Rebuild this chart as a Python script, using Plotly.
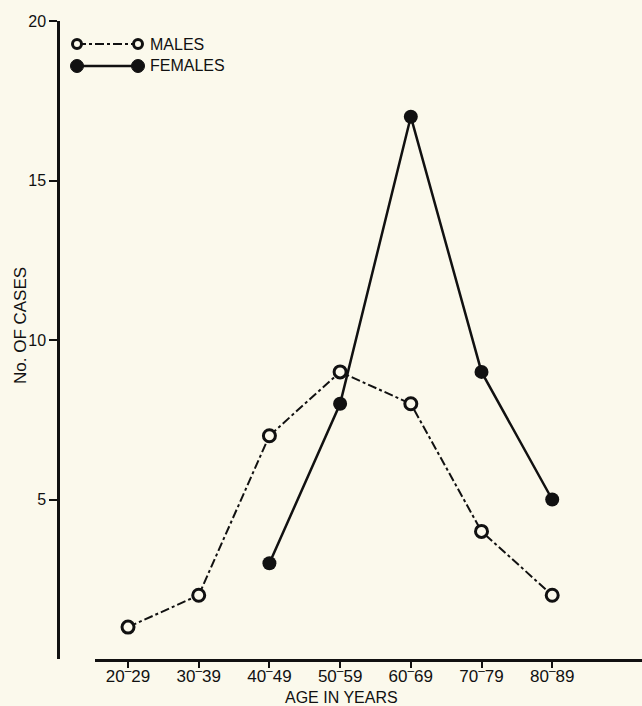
import plotly.graph_objects as go

age_groups = ["20-29", "30-39", "40-49", "50-59", "60-69", "70-79", "80-89"]
tick_labels = ["20<sup>\u2013</sup>29", "30<sup>\u2013</sup>39", "40<sup>\u2013</sup>49", "50<sup>\u2013</sup>59",
               "60<sup>\u2013</sup>69", "70<sup>\u2013</sup>79", "80<sup>\u2013</sup>89"]
males = [1, 2, 7, 9, 8, 4, 2]
female_groups = ["40-49", "50-59", "60-69", "70-79", "80-89"]
females = [3, 8, 17, 9, 5]

W, H = 642, 706
L, R, T, B = 58, 0, 21, 47
PW, PH = W - L - R, H - T - B
BG = "#fbf9ec"
INK = "#111111"
FONT = "Liberation Sans, Arial, sans-serif"

def px(x):
    return (x - L) / PW

def py(y):
    return (H - B - y) / PH

xi_m = [age_groups.index(g) for g in age_groups]
xi_f = [age_groups.index(g) for g in female_groups]

fig = go.Figure()
fig.add_trace(go.Scatter(
    x=xi_m, y=males, mode="lines+markers", name="MALES",
    line=dict(color=INK, width=2, dash="dashdot"),
    marker=dict(symbol="circle", size=12, color=BG, line=dict(color=INK, width=3)),
))
fig.add_trace(go.Scatter(
    x=xi_f, y=females, mode="lines+markers", name="FEMALES",
    line=dict(color=INK, width=2.5),
    marker=dict(symbol="circle", size=14, color=INK),
))

# manual legend (decoration)
shapes = []
shapes.append(dict(type="line", xref="paper", yref="paper", x0=px(77), x1=px(138), y0=py(44), y1=py(44),
                   line=dict(color=INK, width=2, dash="dashdot")))
shapes.append(dict(type="line", xref="paper", yref="paper", x0=px(77), x1=px(138), y0=py(66), y1=py(66),
                   line=dict(color=INK, width=2.5)))
for cx in (77, 138):
    shapes.append(dict(type="circle", xref="paper", yref="paper",
                       x0=px(cx - 4.5), x1=px(cx + 4.5), y0=py(44 - 4.5), y1=py(44 + 4.5),
                       fillcolor=BG, line=dict(color=INK, width=3)))
    shapes.append(dict(type="circle", xref="paper", yref="paper",
                       x0=px(cx - 6.5), x1=px(cx + 6.5), y0=py(66 - 6.5), y1=py(66 + 6.5),
                       fillcolor=INK, line=dict(color=INK, width=1)))

annotations = [
    dict(text="MALES", xref="paper", yref="paper", x=px(148), y=py(44), xanchor="left", yanchor="middle",
         showarrow=False, font=dict(family=FONT, size=16, color=INK)),
    dict(text="FEMALES", xref="paper", yref="paper", x=px(148), y=py(66), xanchor="left", yanchor="middle",
         showarrow=False, font=dict(family=FONT, size=16, color=INK)),
    dict(text="AGE IN YEARS", xref="paper", yref="paper", x=px(341), y=py(697), xanchor="center",
         yanchor="middle", showarrow=False, font=dict(family=FONT, size=16, color=INK)),
    dict(text="No. OF CASES", xref="paper", yref="paper", x=px(20), y=py(326), xanchor="center",
         yanchor="middle", textangle=-90, showarrow=False, font=dict(family=FONT, size=17, color=INK)),
]

x0_idx = -0.467
x1_idx = 7.27
fig.update_layout(
    width=W, height=H,
    margin=dict(l=L, r=R, t=T, b=B, autoexpand=False),
    paper_bgcolor=BG, plot_bgcolor=BG,
    showlegend=False,
    font=dict(family=FONT, size=16, color=INK),
    shapes=shapes, annotations=annotations,
    xaxis=dict(
        domain=[(95 - L) / PW, 1],
        range=[x0_idx, x1_idx],
        tickvals=list(range(len(age_groups))), ticktext=tick_labels,
        showline=True, linecolor=INK, linewidth=2.5,
        ticks="outside", ticklen=6, tickwidth=2, tickcolor=INK,
        showgrid=False, zeroline=False, automargin=False,
        tickfont=dict(size=17), ticklabelstandoff=-6,
    ),
    yaxis=dict(
        anchor="free", position=0,
        range=[0, 20],
        tickvals=[5, 10, 15, 20], ticktext=["5", "10", "15", "20"],
        showline=True, linecolor=INK, linewidth=2.5,
        ticks="outside", ticklen=8, tickwidth=2, tickcolor=INK,
        showgrid=False, zeroline=False, automargin=False,
        tickfont=dict(size=16),
    ),
)

fig.write_html(
    "out.html",
    config={"displayModeBar": False},
    post_script="document.body.style.margin='0';document.body.style.background='%s';"
                "document.body.style.overflow='hidden';" % BG,
)
